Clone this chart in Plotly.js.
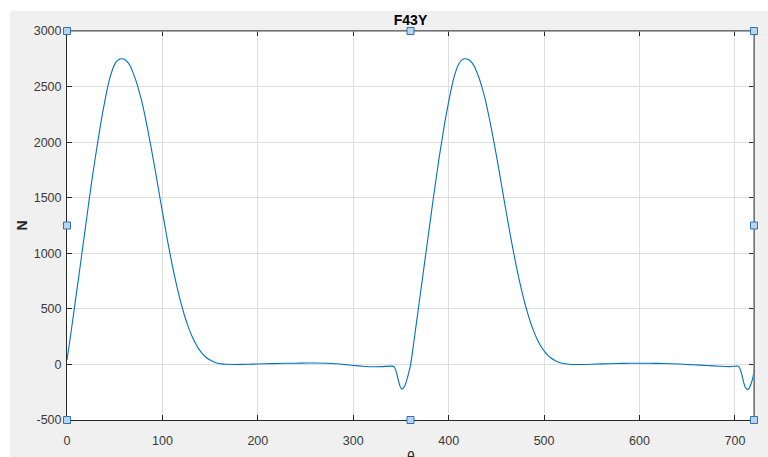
<!DOCTYPE html>
<html>
<head>
<meta charset="utf-8">
<script src="https://cdn.plot.ly/plotly-3.0.1.min.js"></script>
<style>
html,body{margin:0;padding:0;background:#ffffff;width:768px;height:457px;overflow:hidden;}
#chart{position:absolute;left:10px;top:11px;width:758px;height:446px;}
</style>
</head>
<body>
<div id="chart"></div>
<script>
// Crank angle (deg)
var theta = [
  0,3,6,9,12,15,18,21,24,27,30,33,36,39,42,45,48,51,54,57,60,63,66,69,72,75,78,81,84,87,
  90,93,96,99,102,105,108,111,114,117,120,123,126,129,132,135,138,141,144,147,150,154,158,162,166,
  175,190,200,215,230,245,260,272,282,292,300,310,320,330,340,343,345,347,349,350.5,352,354,356,358,
  360,363,366,369,372,375,378,381,384,387,390,393,396,399,402,405,408,411,414,417,420,423,426,429,
  432,435,438,441,444,447,450,453,456,459,462,465,468,471,474,477,480,483,486,489,492,495,498,501,
  504,507,510,514,518,522,526,535,550,560,576,590,610,625,642,656,670,684,695,701,703,705,707,709,
  711,713,715,717,719,720
];
// Force F43Y (N)
var force = [
  40,215,400,585,770,960,1150,1340,1530,1710,1880,2040,2200,2340,2470,2580,2660,2715,2742,2750,2745,2725,2690,2630,2560,2475,2380,2265,2140,2005,
  1865,1720,1570,1420,1275,1130,995,865,745,635,535,445,365,295,235,183,140,106,78,56,39,22,11,5,1,
  0,2,4,7,10,12,13,11,6,-2,-9,-16,-21,-20,-15,-22,-65,-135,-195,-220,-216,-192,-143,-80,
  -8,170,360,550,740,930,1120,1310,1500,1680,1860,2020,2180,2320,2450,2565,2650,2710,2740,2750,2745,2728,2695,2640,
  2575,2490,2395,2280,2155,2020,1880,1735,1585,1435,1290,1145,1010,880,758,648,546,455,373,302,240,188,145,110,
  82,60,42,25,13,6,2,0,2,5,8,11,10,8,4,-3,-10,-16,-20,-16,-15,-32,-85,-155,-207,
  -225,-213,-172,-112,-45,-5
];
var xTicks = [0,100,200,300,400,500,600,700];
var yTicks = [-500,0,500,1000,1500,2000,2500,3000];
var chartTitle = 'F43Y';
var xLabel = 'θ';
var yLabel = 'N';

var trace = {
  x: theta, y: force, type: 'scatter', mode: 'lines',
  line: {color: '#0072BD', width: 1.1, shape: 'spline', smoothing: 0.6},
  hoverinfo: 'skip'
};

// selection handles (decoration) placed in axis-domain coordinates
var handlePos = [[0,0],[0.5,0],[1,0],[0,0.5],[1,0.5],[0,1],[0.5,1],[1,1]];
var shapes = [
  {type:'line', xref:'x domain', yref:'y domain', x0:0, x1:1, y0:1, y1:1, line:{color:'#8c8c8c', width:1.6}, layer:'above'},
  {type:'line', xref:'x domain', yref:'y domain', x0:1, x1:1, y0:0, y1:1, line:{color:'#8c8c8c', width:1.6}, layer:'above'}
];
handlePos.forEach(function(p){
  shapes.push({
    type:'rect', xref:'x domain', yref:'y domain',
    xsizemode:'pixel', ysizemode:'pixel', xanchor:p[0], yanchor:p[1],
    x0:-3.5, x1:3.5, y0:-3.5, y1:3.5,
    fillcolor:'#b9d4ee', line:{color:'#2f72b5', width:1}, layer:'above'
  });
});

var axisFont = {family:'Arial, Liberation Sans, Helvetica, sans-serif', size:12.5, color:'#3a3a3a'};

var layout = {
  width: 758, height: 446,
  margin: {l:57, r:14, t:20, b:37, pad:0},
  paper_bgcolor: '#f0f0f0',
  plot_bgcolor: '#ffffff',
  showlegend: false,
  title: {
    text: chartTitle,
    font: {family:'Arial, Liberation Sans, Helvetica, sans-serif', size:14, color:'#000000', weight:'bold'},
    x: 0.5, xref:'paper', xanchor:'center',
    y: 0.98, yref:'container', yanchor:'middle'
  },
  xaxis: {
    range: [0,720], tickvals: xTicks, ticktext: xTicks.map(String),
    showgrid: true, gridcolor:'#dedede', gridwidth:1,
    zeroline: false,
    showline: true, linecolor:'#262626', linewidth:1, mirror:'ticks',
    ticks:'inside', ticklen:5, tickcolor:'#262626', tickwidth:1,
    tickfont: axisFont, ticklabelstandoff: 9,
    fixedrange: true
  },
  yaxis: {
    range: [-500,3000], tickvals: yTicks, ticktext: yTicks.map(String),
    showgrid: true, gridcolor:'#dedede', gridwidth:1,
    zeroline: false,
    showline: true, linecolor:'#262626', linewidth:1, mirror:'ticks',
    ticks:'inside', ticklen:5, tickcolor:'#262626', tickwidth:1,
    tickfont: axisFont, ticklabelstandoff: 2,
    title: {text: yLabel, font:{family:'Arial, Liberation Sans, sans-serif', size:14, color:'#262626', weight:'bold'}, standoff: 2},
    fixedrange: true
  },
  annotations: [{
    text: xLabel, xref:'paper', yref:'paper', x:0.5, y:0,
    xanchor:'center', yanchor:'top', yshift:-27, showarrow:false,
    font:{family:'Arial, Liberation Sans, sans-serif', size:14, color:'#262626'}
  }],
  shapes: shapes
};

Plotly.newPlot('chart', [trace], layout, {displayModeBar:false, staticPlot:true});
</script>
</body>
</html>
